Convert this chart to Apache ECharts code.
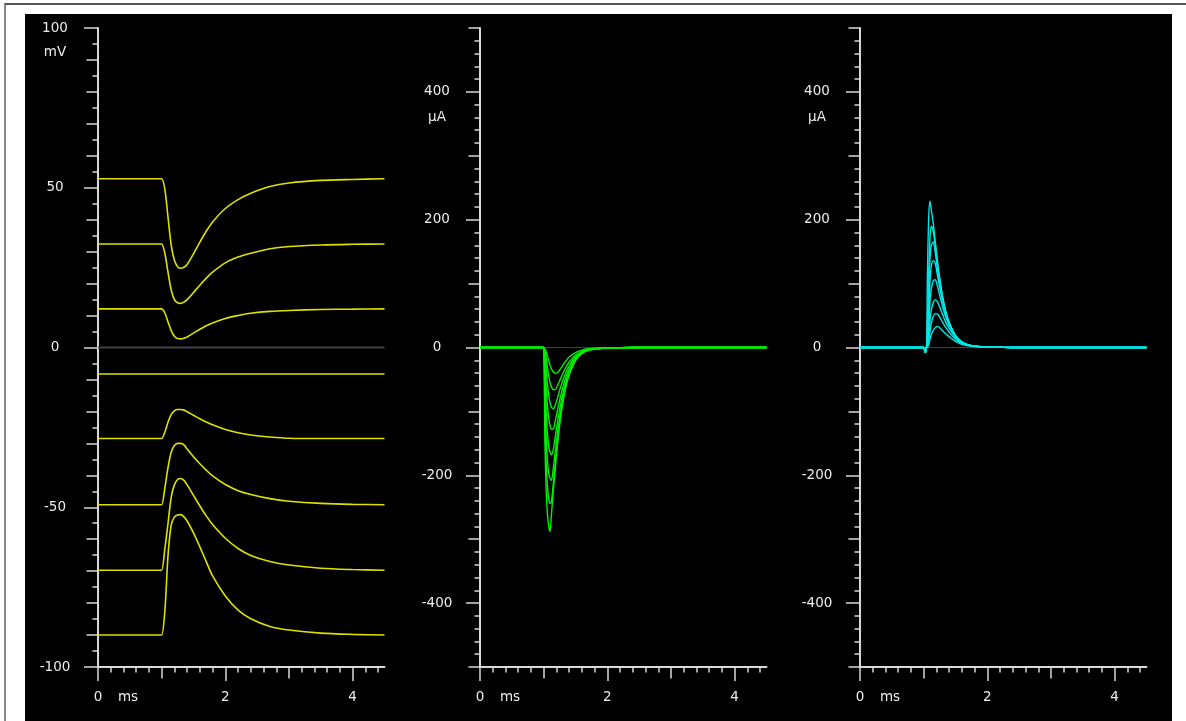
<!DOCTYPE html>
<html><head><meta charset="utf-8">
<script src="https://cdn.jsdelivr.net/npm/echarts@6/dist/echarts.min.js"></script>
<style>
html,body{margin:0;padding:0;background:#fff;width:1186px;height:721px;overflow:hidden}
#frame{position:absolute;left:4px;top:3px;width:1182px;height:718px;border-top:2px solid #555;border-left:2px solid #888;box-sizing:border-box}
#bg{position:absolute;left:25px;top:14px;width:1147px;height:707px;background:#000}
#chart{position:absolute;left:0;top:0;width:1186px;height:721px}
</style></head><body>
<div id="frame"></div><div id="bg"></div><div id="chart"></div>
<script>
// ---- time bases (ms) ----
const T_V = [0, 0.97, 1.0, 1.05, 1.1, 1.15, 1.2, 1.25, 1.3, 1.35, 1.4, 1.5, 1.6, 1.7, 1.8, 2.0, 2.2, 2.4, 2.7, 3.0, 3.5, 4.0, 4.5];
const T_I = [0, 0.98, 1.0, 1.02, 1.04, 1.06, 1.08, 1.1, 1.12, 1.15, 1.18, 1.22, 1.26, 1.3, 1.35, 1.4, 1.5, 1.6, 1.7, 1.85, 2.0, 2.2, 2.4, 4.5];

// ---- membrane voltage traces (mV) ----
const V1 = [52.8,52.8,52.8,49.5,40.7,32,27.3,25.3,24.8,25.1,26,29.3,33,36.4,39.3,43.5,46.3,48.3,50.4,51.5,52.3,52.6,52.8];
const V2 = [32.4,32.4,32.4,29.5,23.5,18,15,14,13.8,14.2,15,17.2,19.5,21.7,23.6,26.5,28.3,29.5,30.9,31.6,32.1,32.3,32.4];
const V3 = [12.1,12.1,12.1,10.8,8,5.3,3.5,2.8,2.7,2.9,3.3,4.5,5.7,6.8,7.7,9.1,10,10.7,11.3,11.6,11.9,12,12.1];
const V4 = [-8.3,-8.3,-8.3,-8.3,-8.3,-8.3,-8.3,-8.3,-8.3,-8.3,-8.3,-8.3,-8.3,-8.3,-8.3,-8.3,-8.3,-8.3,-8.3,-8.3,-8.3,-8.3,-8.3];
const V5 = [-28.5,-28.5,-28.5,-26.5,-23.3,-21,-19.8,-19.4,-19.4,-19.6,-20.1,-21.2,-22.3,-23.3,-24.2,-25.7,-26.7,-27.4,-28,-28.4,-28.5,-28.5,-28.5];
const V6 = [-49.2,-49.2,-49.2,-44,-37.5,-32.8,-30.7,-30,-30,-30.5,-31.8,-34.2,-36.4,-38.4,-40.2,-42.9,-44.8,-46,-47.3,-48.1,-48.8,-49.1,-49.2];
const V7 = [-69.7,-69.7,-69.7,-63,-55,-46.8,-43,-41.3,-41,-41.6,-43,-46.3,-49.6,-52.7,-55.4,-59.7,-62.9,-65.1,-67,-68.1,-69.1,-69.5,-69.7];
const V8 = [-90,-90,-90,-82.5,-65,-55.5,-53.1,-52.4,-52.3,-53,-54.3,-58,-62.4,-67,-71.5,-77.8,-82.2,-84.9,-87.3,-88.4,-89.4,-89.8,-90];

// ---- inward current traces (uA) ----
const G1 = [0,0,0,-2,-7,-14,-21,-28,-33,-38,-40.5,-39,-34,-28,-21,-15,-8,-4,-2,-1,-0.5,-0.2,0,0];
const G2 = [0,0,0,-5,-17,-32,-45,-55,-61,-66,-66,-59,-50,-41,-31,-23,-12,-6,-3,-1.5,-0.7,-0.3,0,0];
const G3 = [0,0,0,-12,-35,-58,-75,-86,-93,-96,-91,-78,-64,-52,-39,-29,-15,-7.5,-3.5,-1.7,-0.8,-0.3,0,0];
const G4 = [0,0,0,-25,-62,-92,-111,-122,-128,-128,-116,-97,-79,-63,-46,-34,-17,-8.5,-4,-1.9,-0.9,-0.3,0,0];
const G5 = [0,0,0,-45,-100,-135,-155,-164,-168,-160,-141,-115,-92,-73,-53,-39,-19,-9,-4.2,-2,-1,-0.4,0,0];
const G6 = [0,0,0,-75,-140,-178,-197,-205,-208,-190,-164,-132,-105,-82,-59,-42,-20,-9.5,-4.4,-2,-1,-0.4,0,0];
const G7 = [0,0,0,-110,-180,-218,-237,-244,-242,-215,-183,-145,-113,-87,-61,-43,-20,-9.5,-4.4,-2,-1,-0.4,0,0];
const G8 = [0,0,0,-150,-225,-262,-280,-288,-265,-225,-193,-148,-112,-84,-57,-40,-17,-7.5,-3.5,-1.6,-0.8,-0.3,0,0];

// ---- outward current traces (uA) ----
const C1 = [0,0,0,-1,0,0.5,5,13,20,27,31,33,30,26,21,17,9.5,5,2.7,1.2,0.6,0.3,0,0];
const C2 = [0,0,0,-1.5,-0.5,1,10,26,38,48,53,52,46,39,31,24,13,6.5,3.3,1.4,0.6,0.3,0,0];
const C3 = [0,0,0,-2,-1,3,18,42,58,70,75,71,61,51,39,30,15.5,7.5,3.7,1.5,0.7,0.3,0,0];
const C4 = [0,0,0,-3,-1,7,36,72,92,104,106,95,78,63,47,35,17.5,8.5,4,1.6,0.7,0.3,0,0];
const C5 = [0,0,0,-4,-2,14,60,105,127,136,132,111,90,71,52,38,18.5,9,4,1.6,0.7,0.3,0,0];
const C6 = [0,0,0,-5,-3,25,90,140,160,165,150,121,96,75,54,39,18.5,9,4,1.6,0.7,0.3,0,0];
const C7 = [0,0,0,-6,-5,40,120,172,190,182,160,127,100,77,55,39,18.5,8.5,4,1.5,0.7,0.3,0,0];
const C8 = [0,0,0,-8,-8,120,205,229,215,195,168,133,104,79,55,39,18,8,3.8,1.5,0.7,0.3,0,0];

// ---- tick labels ----
const X_LABELS = [0, 2, 4];
const X_MID = [1, 3];
const V_LABELS = [-100, -50, 0, 50, 100];
const I_LABELS = [-400, -200, 0, 200, 400];
const I_MID = [-500, -300, -100, 100, 300, 500];

function steps(a, b, s) { const r = []; const n = Math.round((b - a) / s); for (let i = 0; i <= n; i++) r.push(+(a + i * s).toFixed(4)); return r; }
const X_MINOR = steps(0, 4.4, 0.2);
const V_MINOR = steps(-100, 100, 5);
const V_MID = steps(-100, 100, 10);
const I_MINOR = steps(-500, 500, 20);

const AX = '#d8d8d8', TX = '#ececec', FONT = 'DejaVu Sans', FS = 13.5;
const LEFTS = [98, 480, 860];

function xAxes(g) {
  const base = {gridIndex: g, type: 'value', min: 0, max: 4.5, position: 'bottom', splitLine: {show: false}, axisLabel: {show: false}};
  return [
    Object.assign({}, base, {axisLine: {show: true, onZero: false, lineStyle: {color: AX, width: 2}},
      axisTick: {show: true, customValues: X_MINOR, length: 5.5, lineStyle: {color: AX, width: 1.5}}}),
    Object.assign({}, base, {axisLine: {show: false, onZero: false},
      axisTick: {show: true, customValues: X_MID, length: 11.5, lineStyle: {color: AX, width: 1.5}}}),
    Object.assign({}, base, {axisLine: {show: false, onZero: false},
      axisTick: {show: true, customValues: X_LABELS, length: 14, lineStyle: {color: AX, width: 1.5}},
      axisLabel: {show: true, customValues: X_LABELS, margin: 23, color: TX, fontFamily: FONT, fontSize: FS, verticalAlign: 'top'},
      name: 'ms', nameLocation: 'start', nameGap: -30, nameMoveOverlap: false,
      nameTextStyle: {align: 'center', verticalAlign: 'top', padding: [23, 0, 0, 0], color: TX, fontFamily: FONT, fontSize: FS}})
  ];
}
function yAxes(g, min, max, minor, mid, labels, unit, unitGap) {
  const base = {gridIndex: g, type: 'value', min: min, max: max, position: 'left', splitLine: {show: false}, axisLabel: {show: false}};
  return [
    Object.assign({}, base, {axisLine: {show: true, onZero: false, lineStyle: {color: AX, width: 2}},
      axisTick: {show: true, customValues: minor, length: 5.5, lineStyle: {color: AX, width: 1.5}}}),
    Object.assign({}, base, {axisLine: {show: false, onZero: false},
      axisTick: {show: true, customValues: mid, length: 11.5, lineStyle: {color: AX, width: 1.5}}}),
    Object.assign({}, base, {axisLine: {show: false, onZero: false},
      axisTick: {show: true, customValues: labels, length: 14, lineStyle: {color: AX, width: 1.5}},
      axisLabel: {show: true, customValues: labels, margin: 43, align: 'center', color: TX, fontFamily: FONT, fontSize: FS},
      name: unit, nameLocation: 'end', nameGap: unitGap, nameMoveOverlap: false,
      nameTextStyle: {align: 'center', verticalAlign: 'middle', padding: [0, 86, 0, 0], color: TX, fontFamily: FONT, fontSize: FS}})
  ];
}

function pairs(t, v) { return t.map((x, i) => [x, v[i]]); }
function zero(g, w) {
  return {type: 'line', xAxisIndex: 3 * g, yAxisIndex: 3 * g, data: [[0, 0], [4.5, 0]], symbol: 'none', silent: true,
    lineStyle: {color: '#404040', width: w}, z: 1};
}
function traces(g, t, list, color, width) {
  return list.map(v => ({type: 'line', xAxisIndex: 3 * g, yAxisIndex: 3 * g, data: pairs(t, v), symbol: 'none',
    smooth: 0.3, silent: true, lineStyle: {color: color, width: width}, z: 2}));
}

const chart = echarts.init(document.getElementById('chart'), null, {renderer: 'canvas'});
chart.setOption({
  animation: false,
  backgroundColor: 'transparent',
  grid: LEFTS.map(l => ({left: l, top: 28, width: 286.5, height: 639, containLabel: false})),
  xAxis: [].concat(xAxes(0), xAxes(1), xAxes(2)),
  yAxis: [].concat(
    yAxes(0, -100, 100, V_MINOR, V_MID, V_LABELS, 'mV', -24),
    yAxes(1, -500, 500, I_MINOR, I_MID, I_LABELS, 'μA', -89.5),
    yAxes(2, -500, 500, I_MINOR, I_MID, I_LABELS, 'μA', -89.5)),
  series: [].concat(
    [zero(0, 2)], traces(0, T_V, [V1, V2, V3, V4, V5, V6, V7, V8], '#e0e000', 1.6),
    [zero(1, 1)], traces(1, T_I, [G1, G2, G3, G4, G5, G6, G7, G8], '#00f000', 1.4),
    [zero(2, 1)], traces(2, T_I, [C1, C2, C3, C4, C5, C6, C7, C8], '#00e6e6', 1.4))
});
</script>
</body></html>
